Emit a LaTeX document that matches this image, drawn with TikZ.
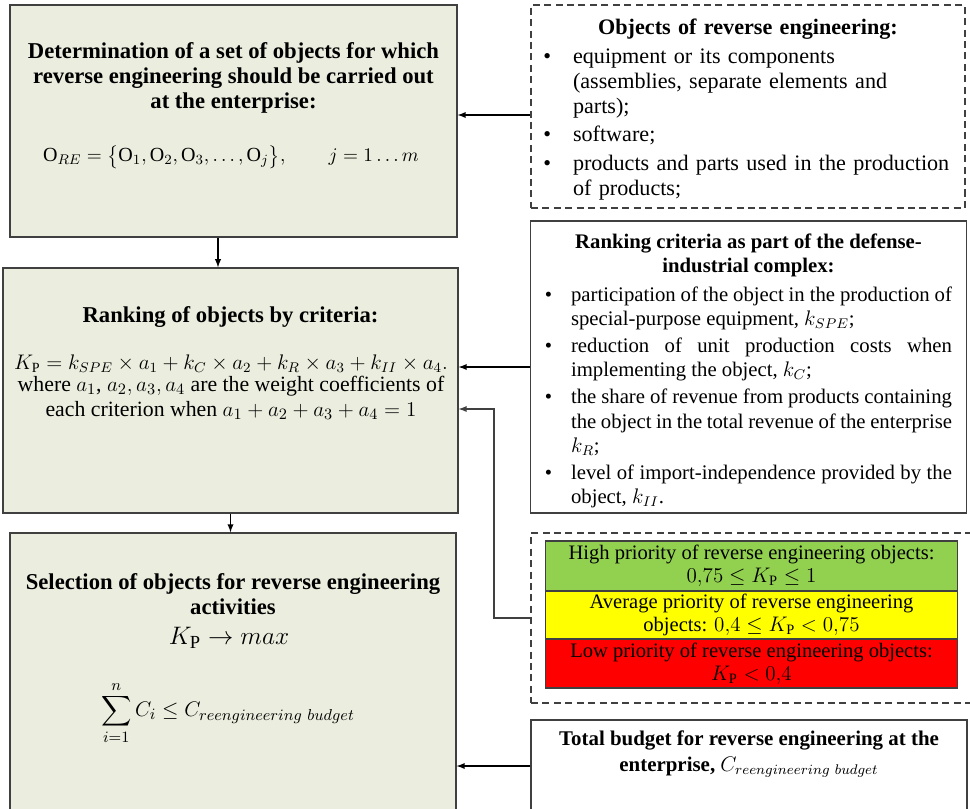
\documentclass[tikz,border=0pt]{standalone}
\usepackage{fontspec}
\setmainfont{Liberation Serif}
\usepackage{amsmath}

\definecolor{boxfill}{RGB}{235,238,223}
\definecolor{linegray}{RGB}{64,64,64}
\definecolor{highgreen}{RGB}{146,208,80}
\definecolor{avgyellow}{RGB}{255,255,0}
\definecolor{lowred}{RGB}{255,0,0}

\newcommand{\leftfont}{\fontsize{12.9}{14.2}\selectfont}
\newcommand{\objsfont}{\fontsize{12.6}{14.2}\selectfont}
\newcommand{\rightfont}{\fontsize{11.8}{13.7}\selectfont}
\newcommand{\rowfont}{\fontsize{11.7}{13.1}\selectfont}
\newenvironment{dotlist}[3]{\begin{list}{\textbullet}{%
  \setlength\leftmargin{#1}\setlength\labelsep{#2}%
  \setlength\itemsep{#3}\setlength\topsep{0pt}\setlength\parsep{0pt}%
  \setlength\partopsep{0pt}}}{\end{list}}

\begin{document}
\begin{tikzpicture}[x=0.02cm,y=-0.02cm,font=\leftfont,
    mainbox/.style={draw=linegray,line width=0.8pt,fill=boxfill,inner sep=0pt},
    sidebox/.style={draw=linegray,line width=0.8pt,fill=white,inner sep=0pt},
    dashbox/.style={sidebox,dashed,dash pattern=on 4pt off 2.5pt},
    rowbox/.style={draw=linegray,line width=0.6pt,inner sep=0pt,
      minimum width=8.26cm,font=\rowfont,align=center},
    headtext/.style={font=\leftfont\bfseries,align=center},
    arr/.style={-latex,line width=0.6pt}]
\useasboundingbox (0,0) rectangle (970,808);
\clip (0,0) rectangle (970,808);

% left column
\node[mainbox,minimum width=8.94cm,minimum height=4.64cm] (det) at (233.5,121) {};
\node[headtext] (detHead) at (233.5,78) {Determination of a set of objects for which\\
  reverse engineering should be carried out\\at the enterprise:};
\node[font=\fontsize{11.4}{14}\selectfont] (detSet) at (231,157)
  {$\mathrm{O}_{RE}=\big\{\mathrm{O}_1,\mathrm{O}_2,\mathrm{O}_3,\dots,\mathrm{O}_j\big\},\qquad j=1\ldots m$};

\node[mainbox,minimum width=9.1cm,minimum height=4.9cm] (rank) at (230.5,390.5) {};
\node[headtext] (rankHead) at (230.5,317) {Ranking of objects by criteria:};
\node[font=\fontsize{12}{14}\selectfont] (rankFormula) at (231,364)
  {$K_{\mathrm{P}}=k_{SPE}\times a_1+k_C\times a_2+k_R\times a_3+k_{II}\times a_4.$};
\node[align=center,font=\fontsize{12.4}{14.2}\selectfont] (rankNote) at (231,398)
  {where $a_1$,\ $a_2,a_3,a_4$ are the weight coefficients of\\
  each criterion when $a_1+a_2+a_3+a_4=1$};

\node[mainbox,minimum width=8.92cm,minimum height=5.56cm] (sel) at (233,672) {};
\node[headtext] (selHead) at (233,594) {Selection of objects for reverse engineering\\activities};
\node (selGoal) at (229,638) {\fontsize{15}{18}\selectfont$K_{\mathrm{P}}\rightarrow max$};
\node[font=\fontsize{12.6}{15}\selectfont] (selBudget) at (228,713)
  {$\displaystyle\sum_{i=1}^{n}C_i\le C_{reengineering\ budget}$};

% right column
\node[dashbox,minimum width=8.68cm,minimum height=4.06cm] (objs) at (748,106.5) {};
\node[text width=8.28cm,anchor=north,font=\objsfont] (objsText) at (748,13)
  {{\centering\bfseries Objects of reverse engineering:\par}\vspace{2pt}
  \begin{dotlist}{0.64cm}{0.44cm}{2pt}
  \item equipment or its components\newline (assemblies, separate elements and\newline parts);
  \item software;
  \item products and parts used in the production\newline of products;
  \end{dotlist}};

\node[sidebox,minimum width=8.72cm,minimum height=5.84cm] (crit) at (748.5,367) {};
\node[text width=8.14cm,anchor=north,align=justify,font=\rightfont] (critText) at (748.5,228)
  {{\centering\bfseries Ranking criteria as part of the defense-\\industrial complex:\par}\vspace{2.5pt}
  \begin{dotlist}{0.52cm}{0.38cm}{1.8pt}
  \item participation of the object in the production of\linebreak special-purpose equipment, $k_{SPE}$;
  \item reduction of unit production costs when\linebreak implementing the object, $k_C$;
  \item the share of revenue from products containing\linebreak the object in the total revenue of the enterprise\linebreak $k_R$;
  \item level of import-independence provided by the\linebreak object, $k_{II}$.
  \end{dotlist}};

\node[dashbox,minimum width=8.88cm,minimum height=3.4cm] (prio) at (753,618) {};
\node[rowbox,fill=highgreen,minimum height=1.0cm] (hiRow) at (751.5,566)
  {High priority of reverse engineering objects:\\$0{,}75\le K_{\mathrm{P}}\le 1$};
\node[rowbox,fill=avgyellow,minimum height=0.96cm] (avgRow) at (751.5,615)
  {Average priority of reverse engineering\\objects: $0{,}4\le K_{\mathrm{P}}<0{,}75$};
\node[rowbox,fill=lowred,minimum height=0.98cm] (lowRow) at (751.5,663.5)
  {Low priority of reverse engineering objects:\\$K_{\mathrm{P}}<0{,}4$};

\node[sidebox,minimum width=8.72cm,minimum height=1.84cm] (budget) at (749,766) {};
\node[font=\fontsize{11.9}{14.6}\selectfont\bfseries,align=center] (budgetText) at (749,754)
  {Total budget for reverse engineering at the\\enterprise, $C_{reengineering\ budget}$};

% connectors
\coordinate (objsIn) at ([yshift=-0.17cm]objs.west);
\coordinate (detOut) at ([xshift=-0.31cm]det.south);
\coordinate (prioBend) at (494,409);
\draw[arr] (objsIn) -- (objsIn -| det.east);
\draw[arr] (detOut) -- (detOut |- rank.north);
\draw[arr] (crit.west) -- (crit.west -| rank.east);
\draw[arr,linegray] (prio.west) -| (prioBend) -- (prioBend -| rank.east);
\draw[arr] (rank.south) -- (rank.south |- sel.north);
\draw[arr] (budget.west) -- (budget.west -| sel.east);
\end{tikzpicture}
\end{document}
